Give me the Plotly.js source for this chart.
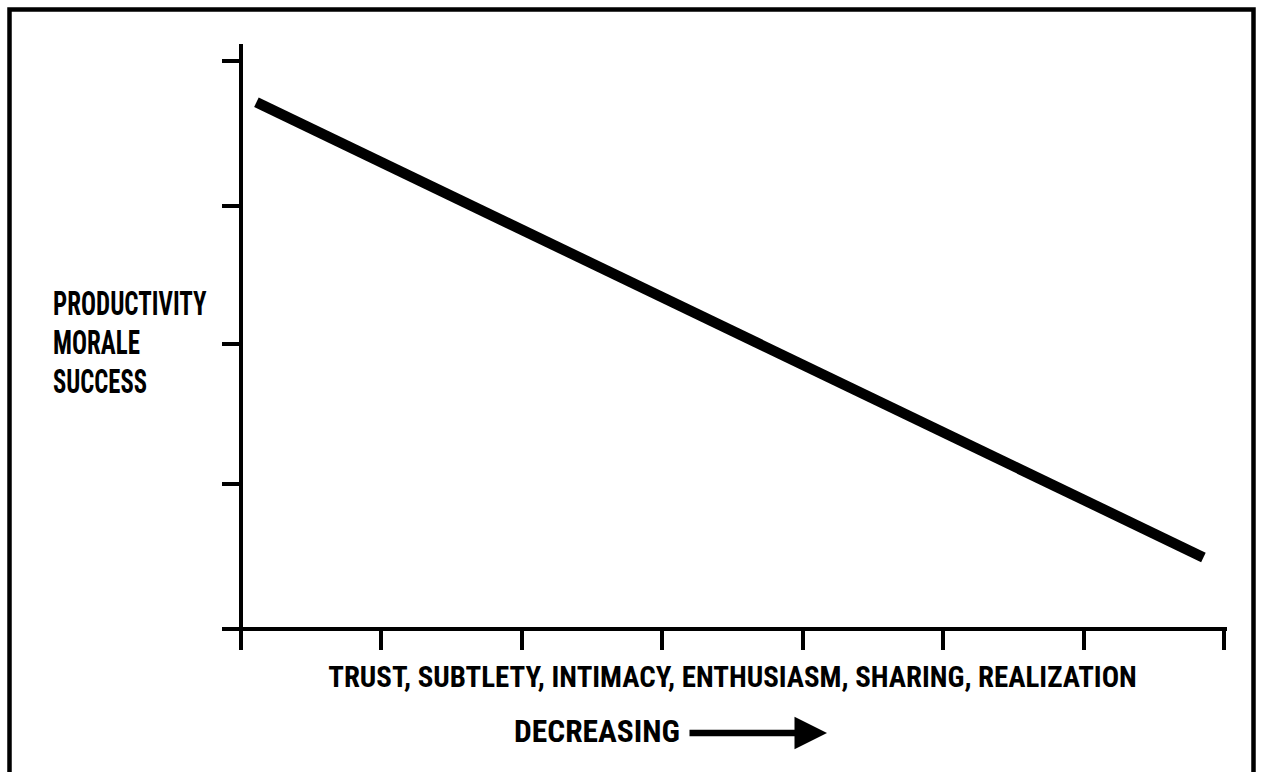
<!DOCTYPE html>
<html><head><meta charset="utf-8">
<script src="https://cdn.plot.ly/plotly-3.0.1.min.js"></script>
<style>html,body{margin:0;padding:0;background:#fff;}#chart{width:1262px;height:772px;}</style>
</head><body><div id="chart"></div>
<script>
// ---- data ----
const lineX = [0.11, 6.85];
const lineY = [3.75, 0.51];
const xTickVals = [1, 2, 3, 4, 5, 6, 7];
const yTickVals = [1.03, 2.03, 3.01, 4.04];
const yLabelLines = ['PRODUCTIVITY', 'MORALE', 'SUCCESS'];
const xLabel = 'TRUST, SUBTLETY, INTIMACY, ENTHUSIASM, SHARING, REALIZATION';
const directionLabel = 'DECREASING';

// ---- layout helpers ----
const FONT = '"Roboto Condensed", "Open Sans Condensed", "Liberation Sans Narrow", "Arial Narrow", "Liberation Sans", Arial, sans-serif';
const W = 1262, H = 772, L = 222, R = 35, T = 44, B = 122;
const pw = W - L - R, ph = H - T - B;
function px(x) { return (x - L) / pw; }
function py(y) { return (H - B - y) / ph; }

// horizontal extents the condensed lettering occupies (left, right in px)
const fits = [[53, 207], [53, 140], [53, 147], [328, 1137], [514, 680]];

const yLabelY = [302.5, 342, 380.5];
const annotations = yLabelLines.map((t, i) => ({
  xref: 'paper', yref: 'paper', x: px(53), y: py(yLabelY[i]),
  xanchor: 'left', yanchor: 'middle', showarrow: false, text: t,
  font: {family: FONT, size: 34, color: '#000', weight: 'bold'}
}));
annotations.push({
  xref: 'paper', yref: 'paper', x: px(733), y: py(676),
  xanchor: 'center', yanchor: 'middle', showarrow: false, text: xLabel,
  font: {family: FONT, size: 30, color: '#000', weight: 'bold'}
});
annotations.push({
  xref: 'paper', yref: 'paper', x: px(680), y: py(731),
  xanchor: 'right', yanchor: 'middle', showarrow: false, text: directionLabel,
  font: {family: FONT, size: 31, color: '#000', weight: 'bold'}
});
annotations.push({
  xref: 'paper', yref: 'paper', x: px(827), y: py(733),
  axref: 'pixel', ayref: 'pixel', ax: -139, ay: 0,
  text: '', showarrow: true, arrowhead: 2, arrowsize: 1, arrowwidth: 6.5,
  arrowcolor: '#000', standoff: 0, startstandoff: 0
});

const trace = {
  type: 'scatter', mode: 'lines', x: lineX, y: lineY,
  line: {color: '#000', width: 10.5}, hoverinfo: 'skip'
};

const axisCommon = {
  showgrid: false, zeroline: true, zerolinecolor: '#000', zerolinewidth: 4,
  showline: false, ticks: 'inside', tickwidth: 4, tickcolor: '#000',
  showticklabels: false, fixedrange: true
};

const layout = {
  width: W, height: H,
  margin: {l: L, r: R, t: T, b: B, pad: 0},
  paper_bgcolor: '#fff', plot_bgcolor: '#fff',
  showlegend: false,
  xaxis: Object.assign({}, axisCommon, {range: [-0.135, 7.018], tickvals: xTickVals, ticklen: 21}),
  yaxis: Object.assign({}, axisCommon, {range: [-0.149, 4.164], tickvals: yTickVals, ticklen: 21}),
  annotations: annotations,
  shapes: [{
    type: 'rect', xref: 'paper', yref: 'paper',
    x0: px(9.5), x1: px(1253.5), y0: py(9.5), y1: py(820),
    line: {color: '#000', width: 4.5}, fillcolor: 'rgba(0,0,0,0)', layer: 'above'
  }]
};

const gd = document.getElementById('chart');
Plotly.newPlot(gd, [trace], layout, {staticPlot: true, displayModeBar: false}).then(() => {
  // squeeze the lettering horizontally to the condensed face of the original
  gd.querySelectorAll('g.annotation').forEach(g => {
    const idx = +g.getAttribute('data-index');
    const f = fits[idx];
    if (!f) return;
    const txt = g.querySelector('text.annotation-text');
    if (!txt) return;
    const bb = txt.getBBox();
    if (!bb.width) return;
    const ctm = txt.getScreenCTM();
    const s = (f[1] - f[0]) / bb.width;
    txt.setAttribute('transform',
      'translate(' + (f[0] - ctm.e) + ',0) scale(' + s + ',1) translate(' + (-bb.x) + ',0)');
  });
});
</script>
</body></html>
